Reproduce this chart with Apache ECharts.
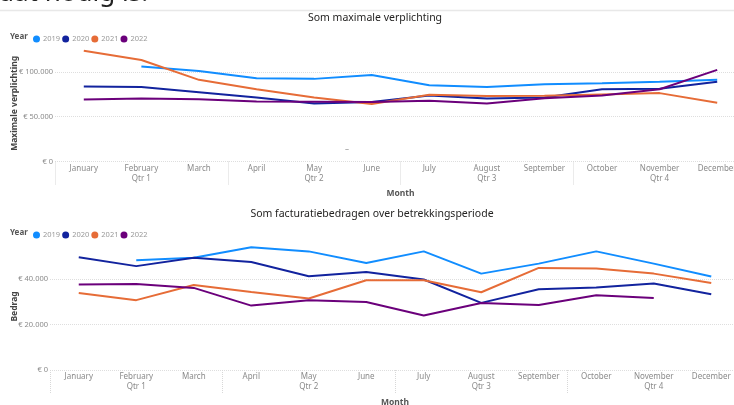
<!DOCTYPE html>
<html>
<head>
<meta charset="utf-8">
<script src="https://cdn.jsdelivr.net/npm/echarts@6/dist/echarts.min.js"></script>
<style>
  html, body { margin: 0; padding: 0; background: #fff; }
  #main { width: 734px; height: 405px; }
</style>
</head>
<body>
<div id="main"></div>
<script>
var months = ['January', 'February', 'March', 'April', 'May', 'June', 'July',
  'August', 'September', 'October', 'November', 'December'];
var quarters = ['Qtr 1', 'Qtr 2', 'Qtr 3', 'Qtr 4'];
var years = ['2019', '2020', '2021', '2022'];
var yearColors = ['#118DFF', '#12239E', '#E66C37', '#6B007B'];

// Som maximale verplichting
var maxVerpl2019 = [null, 105900, 101000, 93000, 92200, 96500, 85200, 83000, 86300, 87400, 88900, 91100];
var maxVerpl2020 = [83700, 83000, 77400, 71500, 64800, 66300, 73700, 70300, 71500, 80700, 81100, 88900];
var maxVerpl2021 = [123500, 113300, 91100, 80700, 71500, 64100, 74400, 73000, 73300, 74800, 76300, 65600];
var maxVerpl2022 = [69200, 70300, 69600, 67000, 66700, 66300, 67800, 64800, 70700, 73700, 80700, 102200];

// Som facturatiebedragen over betrekkingsperiode
var factuur2019 = [null, 48400, 49500, 54100, 52300, 47200, 52300, 42500, 46900, 52300, 46900, 41200];
var factuur2020 = [49700, 45800, 49500, 47600, 41300, 43200, 39900, 29600, 35600, 36400, 38100, 33400];
var factuur2021 = [34000, 30800, 37500, 34400, 31500, 39600, 39600, 34300, 45000, 44800, 42500, 38400];
var factuur2022 = [37700, 37900, 36200, 28400, 30800, 30000, 24000, 29500, 28700, 33000, 31800, null];

var topSeries = [maxVerpl2019, maxVerpl2020, maxVerpl2021, maxVerpl2022];
var bottomSeries = [factuur2019, factuur2020, factuur2021, factuur2022];

var font = 'Noto Sans';
var labelGray = '#8a8a8a';

function euro(v) {
  return '€ ' + String(v).replace(/\B(?=(\d{3})+(?!\d))/g, '.');
}

function monthAxis(gridIndex, nameGap) {
  return {
    type: 'category', gridIndex: gridIndex, data: months, boundaryGap: true,
    axisLine: { show: false }, axisTick: { show: false },
    axisLabel: { color: labelGray, fontSize: 8, fontFamily: font, margin: 3, interval: 0 },
    name: 'Month', nameLocation: 'middle', nameGap: nameGap, nameMoveOverlap: false,
    nameTextStyle: { color: '#555', fontSize: 8.5, fontFamily: font, fontWeight: 'bold' }
  };
}

function quarterAxis(gridIndex) {
  return {
    type: 'category', gridIndex: gridIndex, data: quarters, boundaryGap: true, position: 'bottom',
    axisLine: { show: false },
    axisTick: { show: true, length: 24, lineStyle: { color: '#d8d8d8', type: 'dotted' } },
    axisLabel: { color: labelGray, fontSize: 8, fontFamily: font, margin: 13 }
  };
}

function valueAxis(gridIndex, max, interval, name, nameGap) {
  return {
    type: 'value', gridIndex: gridIndex, min: 0, max: max, interval: interval,
    axisLine: { show: false }, axisTick: { show: false },
    axisLabel: {
      color: labelGray, fontSize: 7.5, fontFamily: font, margin: 2, showMaxLabel: false,
      formatter: function (v) { return euro(v); }
    },
    splitLine: { showMaxLine: false, lineStyle: { color: '#dedede', type: 'dotted', width: 1 } },
    name: name, nameLocation: 'middle', nameGap: nameGap, nameMoveOverlap: false,
    nameTextStyle: { color: '#444', fontSize: 8.5, fontFamily: font, fontWeight: 'bold' }
  };
}

function legend(top) {
  return {
    left: 28, top: top, data: years, icon: 'circle', itemWidth: 7, itemHeight: 7, itemGap: 2,
    selectedMode: false,
    textStyle: { color: '#999', fontSize: 7.5, fontFamily: font, padding: [0, 0, 0, -2] }
  };
}

var series = [];
years.forEach(function (y, i) {
  series.push({
    name: y, type: 'line', xAxisIndex: 0, yAxisIndex: 0, data: topSeries[i],
    showSymbol: false, symbol: 'none', lineStyle: { width: 2, color: yearColors[i] },
    itemStyle: { color: yearColors[i] }, connectNulls: false
  });
});
years.forEach(function (y, i) {
  series.push({
    name: y, type: 'line', xAxisIndex: 2, yAxisIndex: 1, data: bottomSeries[i],
    showSymbol: false, symbol: 'none', lineStyle: { width: 2, color: yearColors[i] },
    itemStyle: { color: yearColors[i] }, connectNulls: false
  });
});

var myChart = echarts.init(document.getElementById('main'));

var option = {
  animation: false,
  backgroundColor: '#fff',
  grid: [
    { left: 55, width: 691, top: 45, height: 116.5, outerBoundsMode: 'none', containLabel: false },
    { left: 50, width: 690, top: 243, height: 127, outerBoundsMode: 'none', containLabel: false }
  ],
  xAxis: [monthAxis(0, 28), quarterAxis(0), monthAxis(1, 28), quarterAxis(1)],
  yAxis: [
    valueAxis(0, 130000, 50000, 'Maximale verplichting', 36),
    valueAxis(1, 56000, 20000, 'Bedrag', 31)
  ],
  legend: [legend(30), legend(226)],
  graphic: [
    { type: 'text', left: -2, top: -19, style: { text: 'dat nodig is.', font: '26px "Noto Sans"', fill: '#222' } },
    { type: 'line', shape: { x1: 0, y1: 10.5, x2: 734, y2: 10.5 }, style: { stroke: '#e8e8e8', lineWidth: 1.5 } },
    { type: 'text', x: 375, y: 18, style: { text: 'Som maximale verplichting', font: '10.5px "Noto Sans"', fill: '#252423', align: 'center', verticalAlign: 'middle' } },
    { type: 'text', x: 372, y: 214, style: { text: 'Som facturatiebedragen over betrekkingsperiode', font: '10.5px "Noto Sans"', fill: '#252423', align: 'center', verticalAlign: 'middle' } },
    { type: 'text', x: 10, y: 37, style: { text: 'Year', font: 'bold 8px "Noto Sans"', fill: '#555', verticalAlign: 'middle' } },
    { type: 'text', x: 10, y: 233, style: { text: 'Year', font: 'bold 8px "Noto Sans"', fill: '#555', verticalAlign: 'middle' } },
    { type: 'text', x: 347, y: 150, style: { text: '–', font: '8px "Noto Sans"', fill: '#999', align: 'center', verticalAlign: 'middle' } }
  ],
  series: series
};
myChart.setOption(option);
</script>
</body>
</html>
